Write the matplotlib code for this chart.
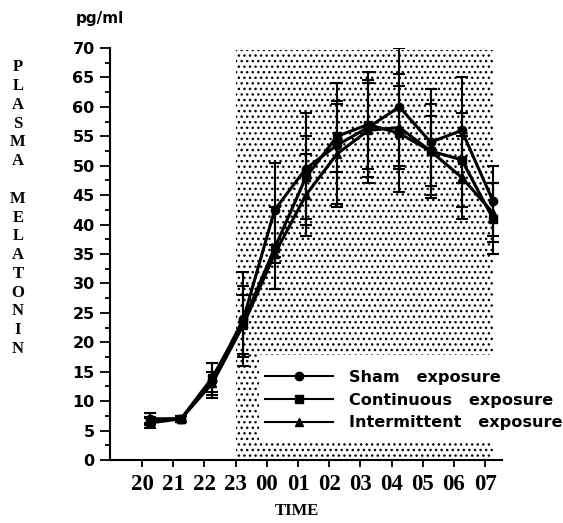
import numpy as np
import matplotlib
matplotlib.use("Agg")
import matplotlib.pyplot as plt
from matplotlib.patches import Rectangle
from matplotlib.lines import Line2D
from matplotlib.ticker import MultipleLocator

times = ["20", "21", "22", "23", "00", "01", "02", "03", "04", "05", "06", "07"]
sham = [7.0, 7.0, 13.5, 24.0, 42.5, 49.5, 53.5, 56.5, 60.0, 54.0, 56.0, 44.0]
sham_err = [1.0, 0.5, 3.0, 8.0, 8.0, 9.5, 10.5, 9.5, 10.0, 9.0, 9.0, 6.0]
cont = [6.3, 7.0, 14.0, 23.5, 36.0, 48.0, 55.0, 57.0, 55.5, 52.5, 51.0, 41.0]
cont_err = [0.8, 0.5, 2.5, 6.0, 7.0, 7.0, 6.0, 7.5, 10.0, 8.0, 8.0, 6.0]
inter = [6.8, 7.0, 13.0, 23.0, 35.0, 45.0, 52.0, 56.0, 56.5, 52.5, 48.0, 42.0]
inter_err = [0.5, 0.5, 2.0, 5.0, 1.5, 7.0, 8.5, 8.0, 7.0, 6.0, 7.0, 5.0]
labels = ["Sham   exposure", "Continuous   exposure", "Intermittent   exposure"]

fig = plt.figure(figsize=(5.63, 5.23), dpi=100)
ax = fig.add_axes([0.1954, 0.1205, 0.6962, 0.7877])

idx = np.arange(len(times))
xs = idx + 0.25  # samples taken a little after the hour

# dark period shading, with a white cut-out behind the legend
ax.add_patch(Rectangle((3, 0), 8.25, 69.7, facecolor="white", edgecolor="black",
                       hatch="...", lw=0, zorder=0))
ax.add_patch(Rectangle((3.75, 2.8), 9, 15.0, facecolor="white", edgecolor="none",
                       lw=0, zorder=0.5, clip_on=False))

series = [(sham, sham_err, "o"), (cont, cont_err, "s"), (inter, inter_err, "^")]
handles = []
for (vals, err, mk), lab in zip(series, labels):
    ax.errorbar(xs, vals, yerr=err, color="black", lw=2.2, marker=mk, ms=6,
                elinewidth=1.5, capsize=4, capthick=1.5, zorder=3)
    handles.append(Line2D([], [], color="black", lw=1.5, marker=mk, ms=6, label=lab))

ax.set_xlim(-1.03, 11.54)
ax.set_ylim(0, 70)
ax.set_xticks(idx)
ax.set_xticklabels(times, family="Liberation Serif", fontweight="bold", fontsize=16.5)
ax.yaxis.set_major_locator(MultipleLocator(5))
ax.yaxis.set_minor_locator(MultipleLocator(2.5))
ax.tick_params(axis="y", which="major", length=7, width=1.3, labelsize=11.5, pad=4)
ax.tick_params(axis="y", which="minor", length=3.5, width=1.3)
ax.tick_params(axis="x", length=5, width=1.3, pad=5)
for t in ax.get_yticklabels():
    t.set_fontweight("semibold")
for s in ["top", "right"]:
    ax.spines[s].set_visible(False)
for s in ["left", "bottom"]:
    ax.spines[s].set_linewidth(1.5)

leg = ax.legend(handles=handles, loc="upper left", bbox_to_anchor=(0.363, 0.25),
                frameon=False, fontsize=11.6, handlelength=4.2, handletextpad=1.0,
                labelspacing=0.48, borderpad=0.3)
for t in leg.get_texts():
    t.set_fontweight("semibold")

fig.text(0.178, 0.965, "pg/ml", fontsize=11, fontweight="semibold", ha="center", va="center")
ylab = "P\nL\nA\nS\nM\nA\n\nM\nE\nL\nA\nT\nO\nN\nI\nN"
fig.text(0.032, 0.602, ylab, family="Liberation Serif", fontweight="bold", fontsize=12,
         ha="center", va="center", linespacing=1.23)
fig.text(0.527, 0.008, "TIME", family="Liberation Serif", fontweight="bold", fontsize=12,
         ha="center", va="bottom")

fig.savefig("out.png", dpi=100)
